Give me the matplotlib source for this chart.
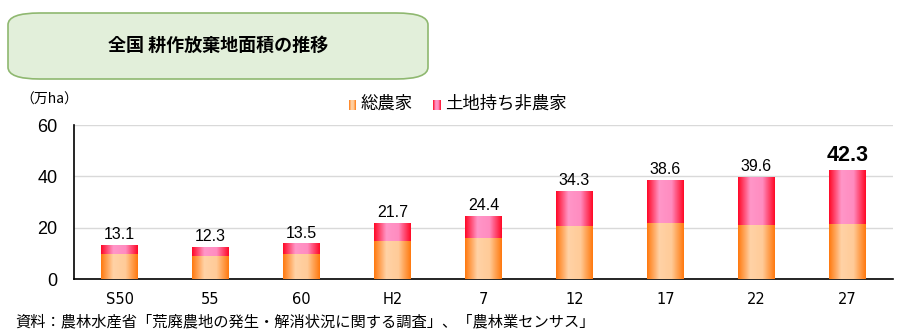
import numpy as np
import matplotlib.pyplot as plt
from matplotlib.colors import LinearSegmentedColormap
from matplotlib.patches import FancyBboxPatch

plt.rcParams['font.family'] = ['Noto Sans CJK JP', 'DejaVu Sans']

years = ['S50', '55', '60', 'H2', '7', '12', '17', '22', '27']
farm = [9.7, 9.1, 9.6, 14.9, 16.0, 20.8, 21.9, 21.0, 21.4]
total = [13.1, 12.3, 13.5, 21.7, 24.4, 34.3, 38.6, 39.6, 42.3]
nonfarm = [t - f for t, f in zip(total, farm)]

orange_cm = LinearSegmentedColormap.from_list('o', ['#FF7A10', '#FFD2A6', '#FFCB98', '#FF7A10'])
red_cm = LinearSegmentedColormap.from_list('r', ['#FF0A28', '#FF96C8', '#FF8CC0', '#FF0A28'])
grad = np.linspace(0, 1, 64).reshape(1, -1)

fig = plt.figure(figsize=(9.05, 3.36), dpi=100)

# title box
box = FancyBboxPatch((8 / 905, 1 - 79 / 336), 420 / 905, 66 / 336,
                     boxstyle='round,pad=0,rounding_size=0.035',
                     transform=fig.transFigure, facecolor='#E2EFDA',
                     edgecolor='#8FB870', linewidth=1.2)
fig.patches.append(box)
fig.text(218 / 905, 1 - 45 / 336, '全国 耕作放棄地面積の推移', ha='center', va='center',
         fontsize=13, fontweight='bold')

ax = fig.add_axes([74 / 905, 57 / 336, 819 / 905, 154 / 336])
x = np.arange(len(years))
w = 0.4
b1 = ax.bar(x, farm, w, color='#FF9A40', zorder=2)
b2 = ax.bar(x, nonfarm, w, bottom=farm, color='#FF4070', zorder=2)
for bars, cm in ((b1, orange_cm), (b2, red_cm)):
    for r in bars:
        ax.imshow(grad, cmap=cm, aspect='auto', zorder=3,
                  extent=(r.get_x(), r.get_x() + r.get_width(), r.get_y(), r.get_y() + r.get_height()))

for i, t in enumerate(total):
    if i == len(total) - 1:
        ax.text(x[i], t + 1.6, f'{t:.1f}', ha='center', va='bottom', fontsize=15.5,
                fontweight='bold', family='Liberation Sans')
    else:
        ax.text(x[i], t + 1.2, f'{t:.1f}', ha='center', va='bottom', fontsize=11.5,
                family='Liberation Sans')

ax.set_xlim(-0.5, len(years) - 0.5)
ax.set_ylim(0, 60)
ax.set_yticks([0, 20, 40, 60])
ax.set_xticks(x)
ax.set_xticklabels(years, family='Liberation Sans Narrow', fontsize=10.5)
ax.tick_params(axis='y', labelsize=13, length=0, pad=12)
ax.tick_params(axis='x', length=0, pad=9)
for lab in ax.get_yticklabels():
    lab.set_family('Liberation Sans')
ax.grid(axis='y', color='#D9D9D9', linewidth=1, zorder=0)
ax.spines['top'].set_visible(False)
ax.spines['right'].set_visible(False)
ax.spines['left'].set_linewidth(1.2)
ax.spines['bottom'].set_linewidth(1.2)

fig.text(20 / 905, 1 - 100 / 336, '（万ha）', ha='left', va='center', fontsize=10)

# legend
for lx, cm, label in ((349, orange_cm, '総農家'), (433, red_cm, '土地持ち非農家')):
    lax = fig.add_axes([lx / 905, 1 - 110 / 336, 7 / 905, 10 / 336])
    lax.imshow(grad, cmap=cm, aspect='auto')
    lax.axis('off')
    fig.text((lx + 12) / 905, 1 - 104 / 336, label, ha='left', va='center', fontsize=12.5)

fig.text(15 / 905, 1 - 322 / 336, '資料：農林水産省「荒廃農地の発生・解消状況に関する調査」、「農林業センサス」',
         ha='left', va='center', fontsize=11)

fig.savefig('out.png', dpi=100)
